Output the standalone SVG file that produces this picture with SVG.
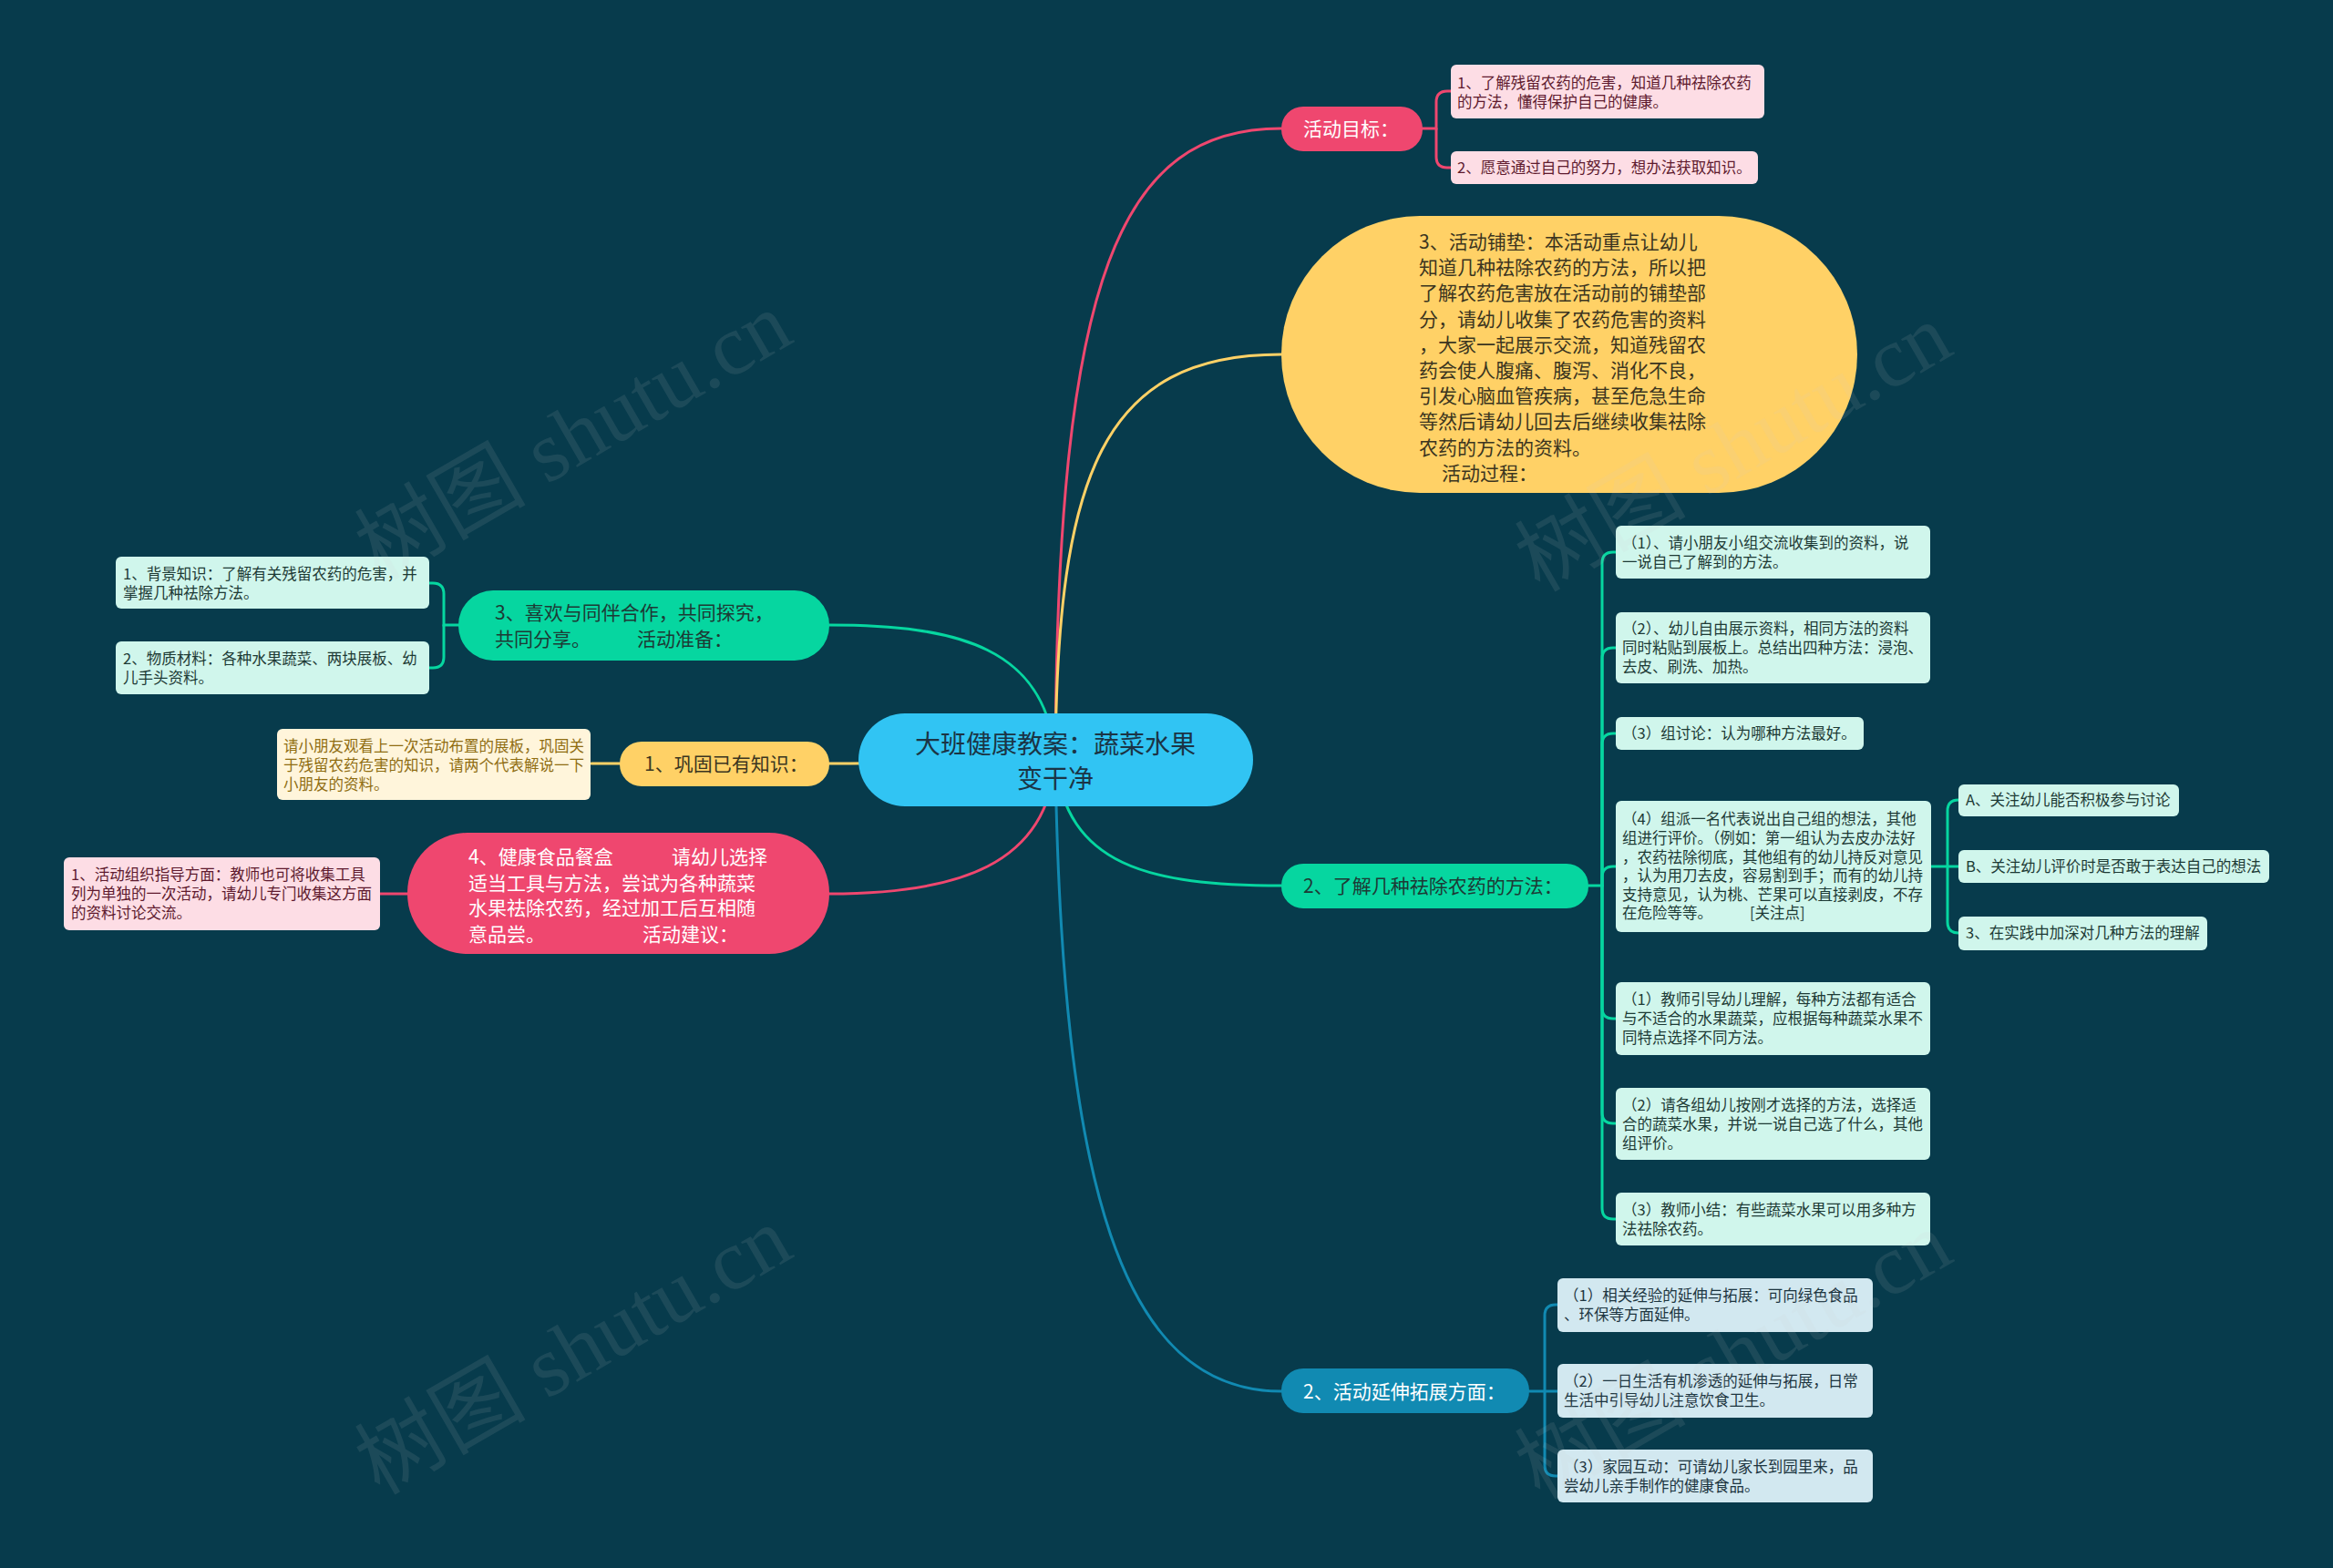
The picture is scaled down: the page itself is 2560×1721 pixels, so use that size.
<svg xmlns="http://www.w3.org/2000/svg" width="2560" height="1721" viewBox="0 0 2560 1721">
<style>
text{font-family:"Noto Sans CJK SC","Noto Sans",sans-serif;}
.s{font-size:16.5px;}
.m{font-size:21px;}
.r{font-size:28px;fill:#1b3445;}
.lp{fill:#fddde5;}
.lt{fill:#d0f6ec;}
.lb{fill:#d2e8f0;}
.lc{fill:#fff5db;}
.tp{fill:#5e1a2e;}
.tt{fill:#1d3a35;}
.tb{fill:#1d3540;}
.tc{fill:#8f6d12;}
.cn{fill:none;stroke-width:3;stroke-linecap:round;}
.wm{font-size:94px;fill:#d0d0d0;opacity:0.1;font-family:"Liberation Serif","Noto Sans CJK SC",serif;}
</style>
<rect x="0" y="0" width="2560" height="1721" fill="#073b4c"/>

<g id="connectors">
<path class="cn" stroke="#ef476f" d="M1158 834 C1160 300 1230 141 1406 141"/>
<path class="cn" stroke="#ffd166" d="M1158 834 C1160 520 1210 389 1406 389"/>
<path class="cn" stroke="#06d6a0" d="M1158 834 C1150 710 1050 686 910 686"/>
<path class="cn" stroke="#ffd166" d="M1158 836 C1000 836 960 838 910 838"/>
<path class="cn" stroke="#ef476f" d="M1158 834 C1150 950 1050 981 910 981"/>
<path class="cn" stroke="#06d6a0" d="M1158 834 C1170 950 1260 972 1406 972"/>
<path class="cn" stroke="#118ab2" d="M1158 834 C1165 1300 1230 1527 1406 1527"/>
<path class="cn" stroke="#ef476f" d="M1561 141 H1576 V112 Q1576 100 1588 100 H1592"/>
<path class="cn" stroke="#ef476f" d="M1576 141 V172 Q1576 184 1588 184 H1592"/>
<path class="cn" stroke="#06d6a0" d="M503 686 H487 V652 Q487 640 475 640 H471"/>
<path class="cn" stroke="#06d6a0" d="M487 686 V721 Q487 733 475 733 H471"/>
<path class="cn" stroke="#ffd166" d="M680 838 H649"/>
<path class="cn" stroke="#ef476f" d="M447 981 H417"/>
<path class="cn" stroke="#06d6a0" d="M1743 972 H1758 V618 Q1758 606 1770 606 H1773"/>
<path class="cn" stroke="#06d6a0" d="M1758 972 V723 Q1758 711 1770 711 H1773"/>
<path class="cn" stroke="#06d6a0" d="M1758 972 V817 Q1758 805 1770 805 H1773"/>
<path class="cn" stroke="#06d6a0" d="M1758 972 V963 Q1758 951 1770 951 H1773"/>
<path class="cn" stroke="#06d6a0" d="M1758 972 V1106 Q1758 1118 1770 1118 H1773"/>
<path class="cn" stroke="#06d6a0" d="M1758 972 V1221 Q1758 1233 1770 1233 H1773"/>
<path class="cn" stroke="#06d6a0" d="M1758 972 V1326 Q1758 1338 1770 1338 H1773"/>
<path class="cn" stroke="#06d6a0" d="M2119 951 H2149"/>
<path class="cn" stroke="#06d6a0" d="M2137 951 V890 Q2137 878 2149 878"/>
<path class="cn" stroke="#06d6a0" d="M2137 951 V1012 Q2137 1024 2149 1024"/>
<path class="cn" stroke="#118ab2" d="M1678 1527 H1709"/>
<path class="cn" stroke="#118ab2" d="M1695 1527 V1444 Q1695 1432 1707 1432 H1709"/>
<path class="cn" stroke="#118ab2" d="M1695 1527 V1608 Q1695 1620 1707 1620 H1709"/>
</g>

<g id="root">
<rect x="942" y="783" width="433" height="102" rx="51" fill="#31c4f3"/>
<text class="r" x="1158" y="827" text-anchor="middle">大班健康教案：蔬菜水果</text>
<text class="r" x="1158" y="865" text-anchor="middle">变干净</text>
</g>

<g id="goal">
<rect x="1406" y="117" width="155" height="49" rx="24" fill="#ef476f"/>
<text class="m" x="1430" y="149" fill="#ffffff">活动目标：</text>
</g>
<g id="goal-1">
<rect class="lp" x="1592" y="71" width="344" height="59" rx="6"/>
<text class="s tp" x="1599" y="97">1、了解残留农药的危害，知道几种祛除农药</text>
<text class="s tp" x="1599" y="118">的方法，懂得保护自己的健康。</text>
</g>
<g id="goal-2">
<rect class="lp" x="1592" y="166" width="337" height="36" rx="6"/>
<text class="s tp" x="1599" y="190">2、愿意通过自己的努力，想办法获取知识。</text>
</g>

<g id="prep">
<rect x="1406" y="237" width="632" height="304" rx="152" fill="#ffd166"/>
<text class="m" fill="#3b3520">
<tspan x="1557" y="273">3、活动铺垫：本活动重点让幼儿</tspan>
<tspan x="1557" y="301">知道几种祛除农药的方法，所以把</tspan>
<tspan x="1557" y="329">了解农药危害放在活动前的铺垫部</tspan>
<tspan x="1557" y="358">分，请幼儿收集了农药危害的资料</tspan>
<tspan x="1557" y="386">，大家一起展示交流，知道残留农</tspan>
<tspan x="1557" y="414">药会使人腹痛、腹泻、消化不良，</tspan>
<tspan x="1557" y="442">引发心脑血管疾病，甚至危急生命</tspan>
<tspan x="1557" y="470">等然后请幼儿回去后继续收集祛除</tspan>
<tspan x="1557" y="499">农药的方法的资料。</tspan>
<tspan x="1582" y="527">活动过程：</tspan>
</text>
</g>

<g id="coop">
<rect x="503" y="648" width="407" height="77" rx="38" fill="#06d6a0"/>
<text class="m tt"><tspan x="543" y="680">3、喜欢与同伴合作，共同探究，</tspan><tspan x="543" y="709">共同分享。</tspan><tspan x="699" y="709">活动准备：</tspan></text>
</g>
<g id="coop-1">
<rect class="lt" x="127" y="611" width="344" height="57" rx="6"/>
<text class="s tt" x="135" y="636">1、背景知识：了解有关残留农药的危害，并</text>
<text class="s tt" x="135" y="657">掌握几种祛除方法。</text>
</g>
<g id="coop-2">
<rect class="lt" x="127" y="704" width="344" height="58" rx="6"/>
<text class="s tt" x="135" y="729">2、物质材料：各种水果蔬菜、两块展板、幼</text>
<text class="s tt" x="135" y="750">儿手头资料。</text>
</g>

<g id="review">
<rect x="680" y="814" width="230" height="49" rx="24" fill="#ffd166"/>
<text class="m" x="707" y="846" fill="#3b3520">1、巩固已有知识：</text>
</g>
<g id="review-1">
<rect class="lc" x="304" y="800" width="344" height="78" rx="6"/>
<text class="s tc" x="311" y="825">请小朋友观看上一次活动布置的展板，巩固关</text>
<text class="s tc" x="311" y="846">于残留农药危害的知识，请两个代表解说一下</text>
<text class="s tc" x="311" y="867">小朋友的资料。</text>
</g>

<g id="food">
<rect x="447" y="914" width="463" height="133" rx="66" fill="#ef476f"/>
<text class="m" fill="#ffffff">
<tspan x="514" y="948">4、健康食品餐盒</tspan><tspan x="737" y="948">请幼儿选择</tspan>
<tspan x="514" y="977">适当工具与方法，尝试为各种蔬菜</tspan>
<tspan x="514" y="1004">水果祛除农药，经过加工后互相随</tspan>
<tspan x="514" y="1033">意品尝。</tspan><tspan x="705" y="1033">活动建议：</tspan>
</text>
</g>
<g id="food-1">
<rect class="lp" x="70" y="941" width="347" height="80" rx="6"/>
<text class="s tp" x="78" y="966">1、活动组织指导方面：教师也可将收集工具</text>
<text class="s tp" x="78" y="987">列为单独的一次活动，请幼儿专门收集这方面</text>
<text class="s tp" x="78" y="1008">的资料讨论交流。</text>
</g>

<g id="methods">
<rect x="1406" y="948" width="337" height="49" rx="24" fill="#06d6a0"/>
<text class="m tt" x="1430" y="980">2、了解几种祛除农药的方法：</text>
</g>
<g id="m-1">
<rect class="lt" x="1773" y="577" width="345" height="58" rx="6"/>
<text class="s tt" x="1780" y="602">（1）、请小朋友小组交流收集到的资料，说</text>
<text class="s tt" x="1780" y="623">一说自己了解到的方法。</text>
</g>
<g id="m-2">
<rect class="lt" x="1773" y="672" width="345" height="78" rx="6"/>
<text class="s tt" x="1780" y="696">（2）、幼儿自由展示资料，相同方法的资料</text>
<text class="s tt" x="1780" y="717">同时粘贴到展板上。总结出四种方法：浸泡、</text>
<text class="s tt" x="1780" y="738">去皮、刷洗、加热。</text>
</g>
<g id="m-3">
<rect class="lt" x="1773" y="787" width="272" height="36" rx="6"/>
<text class="s tt" x="1780" y="811">（3）组讨论：认为哪种方法最好。</text>
</g>
<g id="m-4">
<rect class="lt" x="1773" y="879" width="346" height="144" rx="6"/>
<text class="s tt" x="1780" y="905">（4）组派一名代表说出自己组的想法，其他</text>
<text class="s tt" x="1780" y="926">组进行评价。（例如：第一组认为去皮办法好</text>
<text class="s tt" x="1780" y="947">，农药祛除彻底，其他组有的幼儿持反对意见</text>
<text class="s tt" x="1780" y="967">，认为用刀去皮，容易割到手；而有的幼儿持</text>
<text class="s tt" x="1780" y="988">支持意见，认为桃、芒果可以直接剥皮，不存</text>
<text class="s tt" y="1008"><tspan x="1780">在危险等等。</tspan><tspan x="1920">[关注点]</tspan></text>
</g>
<g id="m-4a">
<rect class="lt" x="2149" y="861" width="242" height="35" rx="6"/>
<text class="s tt" x="2157" y="884">A、关注幼儿能否积极参与讨论</text>
</g>
<g id="m-4b">
<rect class="lt" x="2149" y="933" width="341" height="36" rx="6"/>
<text class="s tt" x="2157" y="957">B、关注幼儿评价时是否敢于表达自己的想法</text>
</g>
<g id="m-4c">
<rect class="lt" x="2149" y="1006" width="273" height="37" rx="6"/>
<text class="s tt" x="2157" y="1030">3、在实践中加深对几种方法的理解</text>
</g>
<g id="m-5">
<rect class="lt" x="1773" y="1078" width="345" height="80" rx="6"/>
<text class="s tt" x="1780" y="1103">（1）教师引导幼儿理解，每种方法都有适合</text>
<text class="s tt" x="1780" y="1124">与不适合的水果蔬菜，应根据每种蔬菜水果不</text>
<text class="s tt" x="1780" y="1145">同特点选择不同方法。</text>
</g>
<g id="m-6">
<rect class="lt" x="1773" y="1194" width="345" height="79" rx="6"/>
<text class="s tt" x="1780" y="1219">（2）请各组幼儿按刚才选择的方法，选择适</text>
<text class="s tt" x="1780" y="1240">合的蔬菜水果，并说一说自己选了什么，其他</text>
<text class="s tt" x="1780" y="1261">组评价。</text>
</g>
<g id="m-7">
<rect class="lt" x="1773" y="1309" width="345" height="58" rx="6"/>
<text class="s tt" x="1780" y="1334">（3）教师小结：有些蔬菜水果可以用多种方</text>
<text class="s tt" x="1780" y="1355">法祛除农药。</text>
</g>

<g id="extend">
<rect x="1406" y="1502" width="272" height="49" rx="24" fill="#118ab2"/>
<text class="m" x="1430" y="1535" fill="#ffffff">2、活动延伸拓展方面：</text>
</g>
<g id="e-1">
<rect class="lb" x="1709" y="1403" width="346" height="59" rx="6"/>
<text class="s tb" x="1716" y="1428">（1）相关经验的延伸与拓展：可向绿色食品</text>
<text class="s tb" x="1716" y="1449">、环保等方面延伸。</text>
</g>
<g id="e-2">
<rect class="lb" x="1709" y="1497" width="346" height="59" rx="6"/>
<text class="s tb" x="1716" y="1522">（2）一日生活有机渗透的延伸与拓展，日常</text>
<text class="s tb" x="1716" y="1543">生活中引导幼儿注意饮食卫生。</text>
</g>
<g id="e-3">
<rect class="lb" x="1709" y="1591" width="346" height="58" rx="6"/>
<text class="s tb" x="1716" y="1616">（3）家园互动：可请幼儿家长到园里来，品</text>
<text class="s tb" x="1716" y="1637">尝幼儿亲手制作的健康食品。</text>
</g>

<g id="watermarks">
<text class="wm" x="645" y="506" text-anchor="middle" transform="rotate(-30 645 506)">树图 shutu.cn</text>
<text class="wm" x="1918" y="519" text-anchor="middle" transform="rotate(-30 1918 519)">树图 shutu.cn</text>
<text class="wm" x="645" y="1510" text-anchor="middle" transform="rotate(-30 645 1510)">树图 shutu.cn</text>
<text class="wm" x="1918" y="1515" text-anchor="middle" transform="rotate(-30 1918 1515)">树图 shutu.cn</text>
</g>
</svg>
